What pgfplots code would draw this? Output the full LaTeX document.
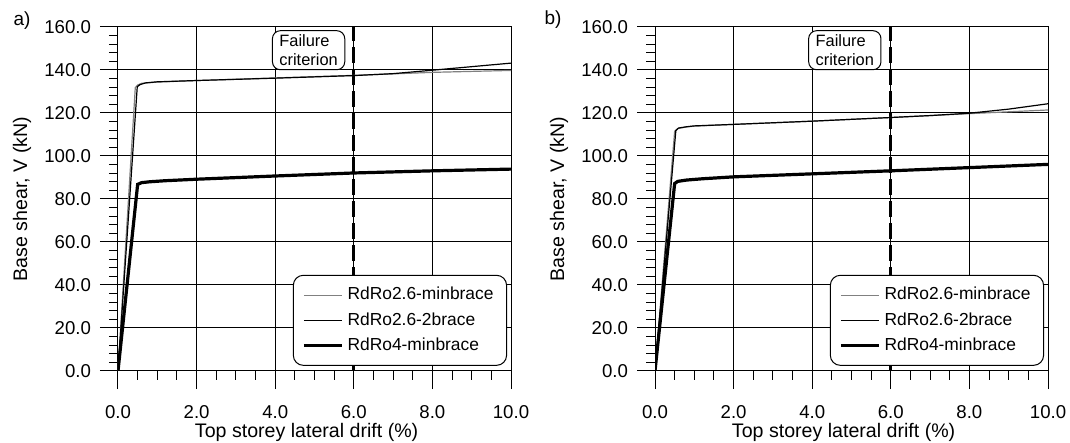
\documentclass[border=0pt]{standalone}
\usepackage{pgfplots}
\pgfplotsset{compat=1.18}
\usepackage{fontspec}
\setmainfont{Liberation Sans}
\begin{document}
\begin{tikzpicture}
\pgfplotsset{
  myax/.style={
    scale only axis, width=196.5pt, height=172pt,
    xmin=0, xmax=10, ymin=0, ymax=160,
    xtick={0,2,...,10}, ytick={0,20,...,160},
    minor x tick num=3, minor y tick num=4,
    tick align=outside, major tick length=9pt, minor tick length=4.5pt,
    tick pos=left,
    axis line style={line width=0.5pt},
    every tick/.style={black, line width=0.5pt},
    grid=major, major grid style={black, line width=0.5pt},
    /pgf/number format/fixed, /pgf/number format/fixed zerofill,
    /pgf/number format/precision=1, /pgf/number format/assume math mode=true,
    tick label style={font=\fontsize{9.3}{10}\selectfont},
    xticklabel shift=4.5pt,
    yticklabel shift=1pt,
    every axis x label/.style={at={(axis description cs:0.48,0)}, yshift=-30.5pt, anchor=center, font=\fontsize{9.8}{11}\selectfont},
    every axis y label/.style={at={(axis description cs:0,0.5)}, xshift=-48pt, rotate=90, anchor=center, font=\fontsize{9.8}{11}\selectfont},
    xlabel={Top storey lateral drift (\%)},
    ylabel={Base shear, V (kN)},
    legend cell align=left,
    legend image code/.code={\draw[##1] (0pt,0pt) -- (19pt,0pt);},
    legend style={at={(0.99,0.015)}, anchor=south east, draw=black, line width=0.5pt,
      rounded corners=5pt, font=\fontsize{8.7}{10}\selectfont, fill=white,
      inner xsep=4.5pt, inner ysep=4pt, row sep=0.8pt},
  },
}
\tikzset{
  thingray/.style={gray, line width=0.6pt},
  thinblack/.style={black, line width=0.6pt},
  thickblack/.style={black, line width=1.6pt},
  failline/.style={black, line width=1.6pt, dash pattern=on 8pt off 3pt},
  failbox/.style={draw=black, line width=0.5pt, fill=white, rounded corners=4pt, align=left,
      font=\fontsize{8.2}{9.5}\selectfont, inner xsep=3.5pt, inner ysep=2pt},
}
% ---------------- panel a ----------------
\begin{axis}[myax]
\addplot[failline, forget plot] coordinates {(6,0) (6,160)};
\addplot[thingray] coordinates {(0,0) (0.44,131.8) (0.5,133.0) (0.6,133.8) (1,134.4) (2,135.1) (4,136.3) (6,137.5) (8,138.9) (10,139.8)};
\addlegendentry{RdRo2.6-minbrace}
\addplot[thinblack] coordinates {(0,0) (0.49,132.2) (0.56,133.2) (0.7,134.0) (1,134.5) (2,135.1) (4,136.2) (6,137.4) (7,138.3) (8,139.9) (10,143.2)};
\addlegendentry{RdRo2.6-2brace}
\addplot[thickblack] coordinates {(0,0) (0.5,86.8) (0.6,87.6) (0.8,88.0) (1.2,88.5) (2,89.2) (4,90.7) (6,92.1) (8,93.1) (10,93.9)};
\addlegendentry{RdRo4-minbrace}
\node[failbox] at (axis cs:4.85,149.2) {Failure\\criterion};
\end{axis}
% ---------------- panel b ----------------
\begin{axis}[myax, at={(268.5pt,0pt)}]
\addplot[failline, forget plot] coordinates {(6,0) (6,160)};
\addplot[thingray] coordinates {(0,0) (0.5,111.5) (0.58,112.8) (0.8,113.5) (1,113.9) (2,114.7) (4,116.2) (6,117.9) (8,119.7) (10,121.4)};
\addlegendentry{RdRo2.6-minbrace}
\addplot[thinblack] coordinates {(0,0) (0.53,111.8) (0.6,113.0) (0.8,113.6) (1,114.0) (2,114.7) (4,116.2) (6,117.9) (7,118.8) (8,119.9) (9,121.8) (10,124.3)};
\addlegendentry{RdRo2.6-2brace}
\addplot[thickblack] coordinates {(0,0) (0.5,87.2) (0.58,88.2) (0.8,88.8) (1.2,89.4) (2,90.3) (4,91.7) (6,93.1) (8,94.6) (10,96.1)};
\addlegendentry{RdRo4-minbrace}
\node[failbox] at (axis cs:4.83,149.2) {Failure\\criterion};
\end{axis}
\node[font=\fontsize{9.5}{11}\selectfont] at (-48pt,175pt) {a)};
\node[font=\fontsize{9.5}{11}\selectfont] at (217.5pt,175.5pt) {b)};
\pgfresetboundingbox
\path[use as bounding box] (-59pt,-36pt) rectangle (476pt,185.5pt);
\end{tikzpicture}
\end{document}
